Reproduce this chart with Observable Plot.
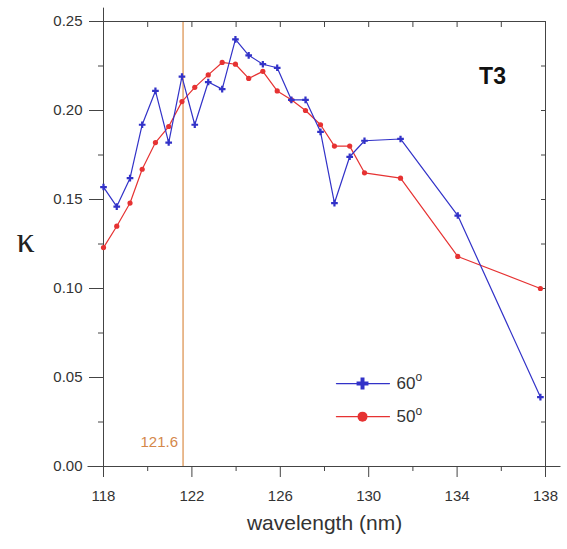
<!DOCTYPE html>
<html><head><meta charset="utf-8">
<script src="https://cdn.jsdelivr.net/npm/d3@7"></script>
<script src="https://cdn.jsdelivr.net/npm/@observablehq/plot@0.6"></script>
<style>body{margin:0;background:#fff}</style>
</head><body><div id="chart"></div>
<script>
// ---- data ----
const wavelength = [118.0, 118.6, 119.2, 119.75, 120.35, 120.95, 121.55, 122.13, 122.74, 123.37, 123.97, 124.57, 125.21, 125.86, 126.5, 127.14, 127.82, 128.45, 129.14, 129.81, 131.44, 134.03, 137.77];
const kappa60 = [0.157, 0.146, 0.162, 0.192, 0.211, 0.182, 0.219, 0.192, 0.216, 0.212, 0.240, 0.231, 0.226, 0.224, 0.206, 0.206, 0.188, 0.148, 0.174, 0.183, 0.184, 0.141, 0.039];
const kappa50 = [0.123, 0.135, 0.148, 0.167, 0.182, 0.191, 0.205, 0.213, 0.220, 0.227, 0.226, 0.218, 0.222, 0.211, 0.206, 0.200, 0.192, 0.180, 0.180, 0.165, 0.162, 0.118, 0.100];
const seriesNames = ["60", "50"];
const xTicks = [118, 122, 126, 130, 134, 138];
const xMinorTicks = [120, 124, 128, 132, 136];
const xAllTicks = [118, 120, 122, 124, 126, 128, 130, 132, 134, 136, 138];
const yTicks = [0, 0.05, 0.10, 0.15, 0.20, 0.25];
const yMinorTicks = [0.025, 0.075, 0.125, 0.175, 0.225];
const yAllTicks = [0, 0.025, 0.05, 0.075, 0.10, 0.125, 0.15, 0.175, 0.20, 0.225, 0.25];
const lymanAlpha = 121.6;
const panelLabel = "T3";

// ---- layout (legend placement in data space) ----
const legendX = [128.54, 130.94], legendMarkX = 129.72, legendTextX = 131.26;
const legendY = [0.0466, 0.028];

const blue = "#3232c8", red = "#e63232", orange = "#e2a46c", axisCol = "#444";
const d60 = wavelength.map((w, i) => ({w, k: kappa60[i]}));
const d50 = wavelength.map((w, i) => ({w, k: kappa50[i]}));

const plot = Plot.plot({
  width: 567, height: 549,
  marginLeft: 103, marginRight: 22, marginTop: 21, marginBottom: 83,
  style: {fontFamily: "Liberation Sans, Arial, sans-serif", background: "#fff"},
  x: {domain: [118, 138], axis: null},
  y: {domain: [0, 0.25], axis: null},
  marks: [
    // Lyman alpha line
    Plot.ruleX([lymanAlpha], {stroke: orange, strokeWidth: 1.5}),
    Plot.text([lymanAlpha], {x: d => d, frameAnchor: "bottom", textAnchor: "end", lineAnchor: "middle", dx: -5, dy: -24, text: d => String(d), fill: "#d4874a", fontSize: 15}),
    // frame & axes
    Plot.frame({stroke: axisCol}),
    Plot.ruleY([0], {x1: 117.3, x2: 138.7, stroke: axisCol}),
    Plot.ruleX([118], {y1: 0, y2: 0.2575, stroke: axisCol}),
    Plot.axisX(xTicks, {anchor: "bottom", tickSize: 11, tickPadding: 13, fontSize: 15, fill: "#333", stroke: axisCol, tickFormat: d => String(d)}),
    Plot.axisX(xMinorTicks, {anchor: "bottom", tickSize: 5, text: null, stroke: axisCol}),
    Plot.axisX(xAllTicks, {anchor: "top", tickSize: 5, dy: 5, text: null, stroke: axisCol}),
    Plot.axisY(yTicks, {anchor: "left", tickSize: 14, tickPadding: 7, fontSize: 15, fill: "#333", stroke: axisCol, tickFormat: d3.format(".2f")}),
    Plot.axisY(yMinorTicks, {anchor: "left", tickSize: 5, text: null, stroke: axisCol}),
    Plot.axisY(yAllTicks, {anchor: "right", tickSize: 5, dx: -5, text: null, stroke: axisCol}),
    Plot.text(["wavelength (nm)"], {frameAnchor: "bottom", lineAnchor: "middle", dy: 57, fontSize: 21, fill: "#333"}),
    Plot.text(["κ"], {frameAnchor: "left", textAnchor: "middle", lineAnchor: "middle", dx: -78, dy: -4, fontSize: 36, fontFamily: "Liberation Serif, Times New Roman, serif", fill: "#222"}),
    Plot.text([panelLabel], {frameAnchor: "top-right", textAnchor: "middle", lineAnchor: "middle", dx: -53, dy: 55, fontSize: 23, fontWeight: "bold", fill: "#111"}),
    // series
    Plot.line(d50, {x: "w", y: "k", stroke: red, strokeWidth: 1.2}),
    Plot.dot(d50, {x: "w", y: "k", r: 2.6, fill: red}),
    Plot.line(d60, {x: "w", y: "k", stroke: blue, strokeWidth: 1.2}),
    Plot.dot(d60, {x: "w", y: "k", r: 2.8, symbol: "cross", fill: blue}),
    // legend
    Plot.line(legendX.map(x => ({x, y: legendY[0]})), {x: "x", y: "y", stroke: blue, strokeWidth: 1.2}),
    Plot.dot([{x: legendMarkX, y: legendY[0]}], {x: "x", y: "y", r: 5, symbol: "cross", fill: blue}),
    Plot.line(legendX.map(x => ({x, y: legendY[1]})), {x: "x", y: "y", stroke: red, strokeWidth: 1.2}),
    Plot.dot([{x: legendMarkX, y: legendY[1]}], {x: "x", y: "y", r: 5, fill: red}),
    Plot.text(seriesNames.map((s, i) => ({s, y: legendY[i]})), {x: legendTextX, y: "y", text: "s", textAnchor: "start", fontSize: 17, fill: "#333"}),
    Plot.text(seriesNames.map((s, i) => ({s, y: legendY[i]})), {x: legendTextX, y: "y", text: () => "o", textAnchor: "start", dx: 19, dy: -6, fontSize: 12, fill: "#333"})
  ]
});
document.getElementById("chart").append(plot);
</script>
</body></html>
